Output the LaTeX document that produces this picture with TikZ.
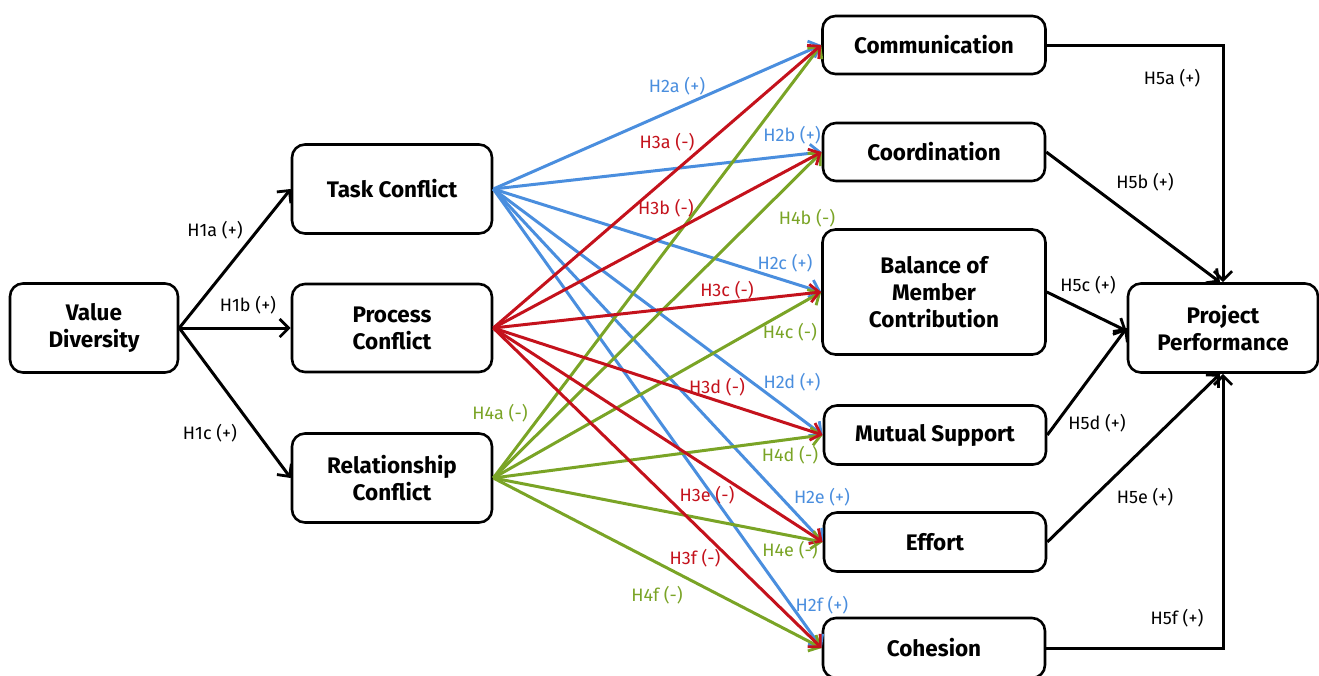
\documentclass[tikz,border=0pt]{standalone}
\usepackage{fontspec}
\setmainfont{Fira Sans}
\usetikzlibrary{arrows.meta}
\definecolor{cblue}{RGB}{74,142,222}
\definecolor{cred}{RGB}{196,18,28}
\definecolor{cgreen}{RGB}{122,164,38}
\begin{document}
\begin{tikzpicture}[x=1pt,y=-1pt,
  box/.style={draw=black, line width=2.6pt, rounded corners=13pt, align=center,
    font=\fontsize{22.5}{27}\selectfont\bfseries, inner sep=0pt},
  arr/.style={line width=3pt, -{Straight Barb[length=9pt,width=18pt,line width=2.8pt]}},
  blk/.style={arr, draw=black},
  bl/.style={arr, draw=cblue},
  rd/.style={arr, draw=cred},
  gr/.style={arr, draw=cgreen},
  lab/.style={font=\fontsize{18}{20}\selectfont, inner sep=0pt},
  lbl/.style={lab, text=cblue},
  lrd/.style={lab, text=cred},
  lgr/.style={lab, text=cgreen}]
\useasboundingbox (0,0) rectangle (1319,675);
% nodes
\node[box, minimum width=168pt, minimum height=89pt] (vd) at (94,328) {Value\\Diversity};
\node[box, minimum width=200pt, minimum height=89pt] (task) at (392,189) {Task Conflict};
\node[box, minimum width=200pt, minimum height=88pt] (proc) at (392,328) {Process\\Conflict};
\node[box, minimum width=200pt, minimum height=89pt] (rel) at (392,478) {Relationship\\Conflict};
\node[box, minimum width=223pt, minimum height=58pt] (comm) at (934,45) {Communication};
\node[box, minimum width=222pt, minimum height=58pt] (coord) at (934,152) {Coordination};
\node[box, minimum width=223pt, minimum height=125pt] (bal) at (934,292) {Balance of\\Member\\Contribution};
\node[box, minimum width=222pt, minimum height=59pt] (mut) at (935,435) {Mutual Support};
\node[box, minimum width=222pt, minimum height=59pt] (eff) at (935,542) {Effort};
\node[box, minimum width=222pt, minimum height=60pt] (coh) at (934,648) {Cohesion};
\node[box, minimum width=190pt, minimum height=89pt] (pp) at (1223,328) {Project\\Performance};
% H1
\draw[blk] (vd.east) -- (task.west);
\draw[blk] (vd.east) -- (proc.west);
\draw[blk] (vd.east) -- (rel.west);
% H2 blue
\foreach \t in {comm,coord,bal,mut,eff,coh} \draw[bl] (task.east) -- (\t.west);
% H4 green
\foreach \t in {comm,coord,bal,mut,eff,coh} \draw[gr] (rel.east) -- (\t.west);
% H3 red
\foreach \t in {comm,coord,bal,mut,eff,coh} \draw[rd] (proc.east) -- (\t.west);
% H5
\draw[blk] (comm.east) -| (pp.north);
\draw[blk] (coord.east) -- ([xshift=-3pt]pp.north);
\draw[blk] (bal.east) -- ([yshift=-3pt]pp.west);
\draw[blk] (mut.east) -- (pp.west);
\draw[blk] (eff.east) -- ([xshift=-3pt]pp.south);
\draw[blk] (coh.east) -| (pp.south);
% labels
\node[lab] (l1a) at (215,230) {H1a (+)};
\node[lab] (l1b) at (248,305) {H1b (+)};
\node[lab] (l1c) at (210,433) {H1c (+)};
\node[lbl] (l2a) at (677,86) {H2a (+)};
\node[lbl] (l2b) at (792,135) {H2b (+)};
\node[lbl] (l2c) at (785,263) {H2c (+)};
\node[lbl] (l2d) at (792,382) {H2d (+)};
\node[lbl] (l2e) at (822,497) {H2e (+)};
\node[lbl] (l2f) at (822,605) {H2f (+)};
\node[lrd] (l3a) at (667,142) {H3a (-)};
\node[lrd] (l3b) at (666,208) {H3b (-)};
\node[lrd] (l3c) at (727,290) {H3c (-)};
\node[lrd] (l3d) at (717,387) {H3d (-)};
\node[lrd] (l3e) at (707,495) {H3e (-)};
\node[lrd] (l3f) at (695,558) {H3f (-)};
\node[lgr] (l4a) at (500,413) {H4a (-)};
\node[lgr] (l4b) at (807,218) {H4b (-)};
\node[lgr] (l4c) at (790,332) {H4c (-)};
\node[lgr] (l4d) at (790,455) {H4d (-)};
\node[lgr] (l4e) at (790,550) {H4e (-)};
\node[lgr] (l4f) at (657,595) {H4f (-)};
\node[lab] (l5a) at (1172,78) {H5a (+)};
\node[lab] (l5b) at (1145,182) {H5b (+)};
\node[lab] (l5c) at (1088,285) {H5c (+)};
\node[lab] (l5d) at (1097,423) {H5d (+)};
\node[lab] (l5e) at (1145,497) {H5e (+)};
\node[lab] (l5f) at (1177,618) {H5f (+)};
\end{tikzpicture}
\end{document}
